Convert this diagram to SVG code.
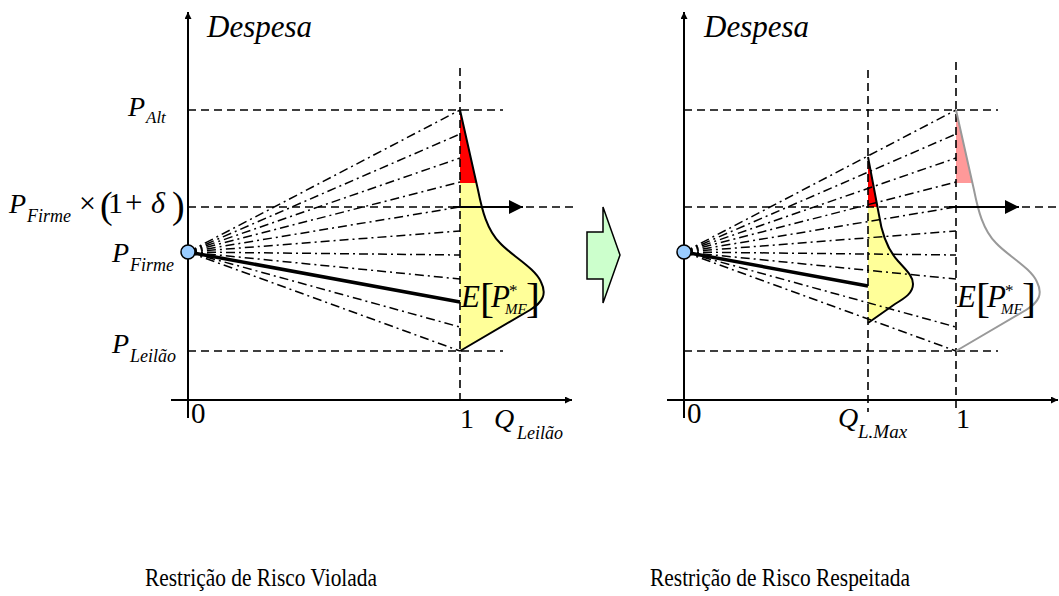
<svg xmlns="http://www.w3.org/2000/svg" width="1059" height="596" viewBox="0 0 1059 596">
<defs>
<style>
.axis{stroke:#000;stroke-width:2;fill:none}
.dash{stroke:#000;stroke-width:1.6;stroke-dasharray:8,5;fill:none}
.fan{stroke:#000;stroke-width:1.5;stroke-dasharray:9,4,2,4;fill:none}
.thick{stroke:#000;stroke-width:3.5;fill:none}
.t{font-family:"Liberation Serif","Times New Roman",serif;fill:#000}
.i{font-style:italic}
.dot{fill:#99ccff;stroke:#000;stroke-width:1.5}
</style>
<marker id="ah" viewBox="0 0 10 10" refX="10" refY="5" markerWidth="7" markerHeight="7" markerUnits="userSpaceOnUse" orient="auto"><path d="M0,0 L10,5 L0,10 z" fill="#000"/></marker>
<marker id="ah2" viewBox="0 0 10 10" refX="10" refY="5" markerWidth="14" markerHeight="14" markerUnits="userSpaceOnUse" orient="auto"><path d="M0,0 L10,5 L0,10 z" fill="#000"/></marker>
<path id="distL" d="M460,110 L478,190 C482,210 487,230 500,243 C512,256 535,268 541,282 C547,294 543,302 530,310 L460,351"/>
<path id="distS" d="M868,157 L879,215 C882,235 888,250 898,261 C906,270 913,276 913,284 C913,293 905,298 895,304 L868,323"/>
<clipPath id="cL"><path d="M460,110 L478,190 C482,210 487,230 500,243 C512,256 535,268 541,282 C547,294 543,302 530,310 L460,351 Z"/></clipPath>
<clipPath id="cS"><path d="M868,157 L879,215 C882,235 888,250 898,261 C906,270 913,276 913,284 C913,293 905,298 895,304 L868,323 Z"/></clipPath>
<clipPath id="cR"><path transform="translate(496,0)" d="M460,110 L478,190 C482,210 487,230 500,243 C512,256 535,268 541,282 C547,294 543,302 530,310 L460,351 Z"/></clipPath>
</defs>
<rect width="1059" height="596" fill="#fff"/>

<g id="left-dist">
<path d="M460,110 L478,190 C482,210 487,230 500,243 C512,256 535,268 541,282 C547,294 543,302 530,310 L460,351 Z" fill="#ffff99"/>
<rect x="455" y="105" width="100" height="78" fill="#ff0000" clip-path="url(#cL)"/>
</g>
<g id="right-dist">
<path d="M868,157 L879,215 C882,235 888,250 898,261 C906,270 913,276 913,284 C913,293 905,298 895,304 L868,323 Z" fill="#ffff99"/>
<rect x="860" y="150" width="60" height="57" fill="#ff0000" clip-path="url(#cS)"/>
<rect x="950" y="105" width="100" height="78" fill="#ff9999" clip-path="url(#cR)"/>
</g>

<g id="connectors">
<g id="left-grid">
<line class="dash" x1="188" y1="110" x2="503" y2="110"/>
<line class="dash" x1="188" y1="207" x2="573" y2="207"/>
<line class="dash" x1="188" y1="351" x2="503" y2="351"/>
<line class="dash" x1="460" y1="68" x2="460" y2="400"/>
</g>
<g id="left-fan">
<line class="fan" x1="188" y1="252" x2="460" y2="110"/>
<line class="fan" x1="188" y1="252" x2="460" y2="134"/>
<line class="fan" x1="188" y1="252" x2="460" y2="158"/>
<line class="fan" x1="188" y1="252" x2="460" y2="182"/>
<line class="fan" x1="188" y1="252" x2="460" y2="207"/>
<line class="fan" x1="188" y1="252" x2="460" y2="231"/>
<line class="fan" x1="188" y1="252" x2="460" y2="255"/>
<line class="fan" x1="188" y1="252" x2="460" y2="279"/>
<line class="fan" x1="188" y1="252" x2="460" y2="327"/>
<line class="fan" x1="188" y1="252" x2="460" y2="351"/>
<line class="thick" x1="188" y1="252" x2="460" y2="302"/>
</g>
<use href="#distL" fill="none" stroke="#000" stroke-width="2"/>
<line class="axis" x1="453" y1="207" x2="523" y2="207" marker-end="url(#ah2)"/>
<line class="axis" x1="188" y1="418" x2="188" y2="12" marker-end="url(#ah)"/>
<line class="axis" x1="171" y1="400" x2="572" y2="400" marker-end="url(#ah)"/>

<g id="right-grid">
<line class="dash" x1="684" y1="110" x2="998" y2="110"/>
<line class="dash" x1="684" y1="207" x2="1059" y2="207"/>
<line class="dash" x1="684" y1="351" x2="998" y2="351"/>
<line class="dash" x1="868" y1="70" x2="868" y2="412"/>
<line class="dash" x1="956" y1="62" x2="956" y2="412"/>
</g>
<g id="right-fan">
<line class="fan" x1="684" y1="252" x2="956" y2="110"/>
<line class="fan" x1="684" y1="252" x2="956" y2="134"/>
<line class="fan" x1="684" y1="252" x2="956" y2="158"/>
<line class="fan" x1="684" y1="252" x2="956" y2="182"/>
<line class="fan" x1="684" y1="252" x2="956" y2="207"/>
<line class="fan" x1="684" y1="252" x2="956" y2="231"/>
<line class="fan" x1="684" y1="252" x2="956" y2="255"/>
<line class="fan" x1="684" y1="252" x2="956" y2="279"/>
<line class="fan" x1="684" y1="252" x2="956" y2="327"/>
<line class="fan" x1="684" y1="252" x2="956" y2="351"/>
<line class="thick" x1="684" y1="252" x2="868" y2="286"/>
</g>
<use href="#distS" fill="none" stroke="#000" stroke-width="2"/>
<use href="#distL" transform="translate(496,0)" fill="none" stroke="#999" stroke-width="2"/>
<line class="axis" x1="949" y1="207" x2="1019" y2="207" marker-end="url(#ah2)"/>
<line class="axis" x1="684" y1="418" x2="684" y2="12" marker-end="url(#ah)"/>
<line class="axis" x1="667" y1="400" x2="1058" y2="400" marker-end="url(#ah)"/>
</g>

<g id="origin-left"><circle class="dot" cx="188" cy="252" r="7"/></g>
<g id="origin-right"><circle class="dot" cx="684" cy="252" r="7"/></g>

<g id="transition-arrow"><polygon points="587,232 603,232 603,207 620,255 603,303 603,279 587,279" fill="#ccffcc" stroke="#000" stroke-width="1.5"/></g>

<g id="labels-left">
<text class="t i" x="207" y="37" font-size="31">Despesa</text>
<text class="t i" x="128" y="116" font-size="28">P</text><text class="t i" x="146" y="123" font-size="17">Alt</text>
<text class="t i" x="9" y="213" font-size="28">P</text><text class="t i" x="27" y="222" font-size="18">Firme</text>
<text class="t" x="79" y="213" font-size="30">×</text>
<text class="t" x="100" y="218" font-size="38">(</text>
<text class="t" x="108" y="213" font-size="30">1</text>
<text class="t" x="125" y="213" font-size="31">+</text>
<text class="t i" x="151" y="213" font-size="30">δ</text>
<text class="t" x="172" y="218" font-size="38">)</text>
<text class="t i" x="112" y="262" font-size="28">P</text><text class="t i" x="130" y="271" font-size="18">Firme</text>
<text class="t i" x="112" y="353" font-size="28">P</text><text class="t i" x="130" y="362" font-size="18">Leilão</text>
<text class="t" x="191" y="423" font-size="29">0</text>
<text class="t" x="460" y="428" font-size="28">1</text>
<text class="t i" x="494" y="428" font-size="28">Q</text><text class="t i" x="517" y="439" font-size="18">Leilão</text>
<text class="t i" x="461" y="307" font-size="31">E</text>
<text class="t" x="480" y="312" font-size="42">[</text>
<text class="t i" x="491" y="307" font-size="31">P</text>
<text class="t" x="509" y="296" font-size="17">*</text>
<text class="t i" x="505" y="314" font-size="15">MF</text>
<text class="t" x="526" y="312" font-size="42">]</text>
</g>

<g id="labels-right">
<text class="t i" x="704" y="37" font-size="31">Despesa</text>
<text class="t" x="687" y="423" font-size="29">0</text>
<text class="t i" x="838" y="427" font-size="28">Q</text><text class="t i" x="858" y="438" font-size="19">L.Max</text>
<text class="t" x="956" y="428" font-size="28">1</text>
<text class="t i" x="957" y="307" font-size="31">E</text>
<text class="t" x="976" y="312" font-size="42">[</text>
<text class="t i" x="987" y="307" font-size="31">P</text>
<text class="t" x="1005" y="296" font-size="17">*</text>
<text class="t i" x="1001" y="314" font-size="15">MF</text>
<text class="t" x="1022" y="312" font-size="42">]</text>
</g>

<g id="captions">
<text class="t" x="145" y="586" font-size="25" textLength="232" lengthAdjust="spacingAndGlyphs">Restrição de Risco Violada</text>
<text class="t" x="650" y="586" font-size="25" textLength="260" lengthAdjust="spacingAndGlyphs">Restrição de Risco Respeitada</text>
</g>
</svg>
